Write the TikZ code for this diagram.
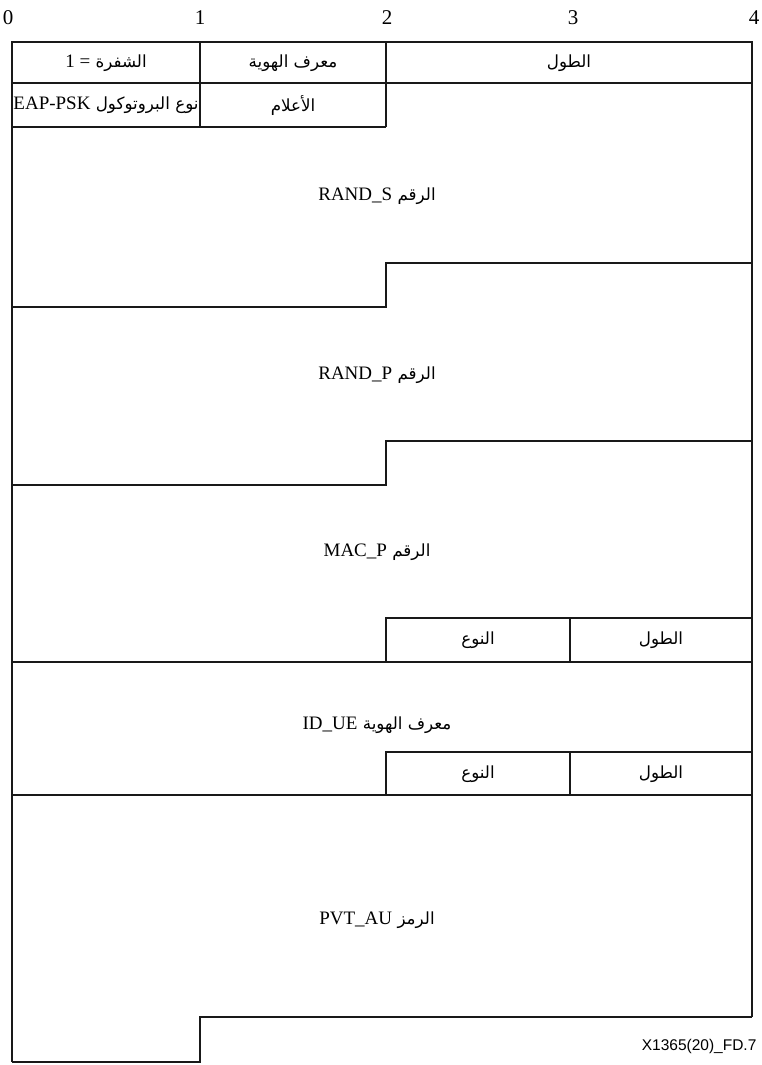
\documentclass[tikz,border=0pt]{standalone}
\usepackage{fontspec}
\setmainfont{Liberation Serif}
\newfontfamily\arabicfont[Script=Arabic,Scale=0.88]{DejaVu Sans}
\newfontfamily\figfont{Liberation Sans}
\TeXXeTstate=1
\newcommand{\artxt}[1]{{\arabicfont\beginR #1\endR}}
\newcommand{\lat}[1]{{\rmfamily\beginL #1\endL}}

\begin{document}
\begin{tikzpicture}[x=1pt, y=-1pt, line width=1.2pt, draw=black!90,
	field/.style={inner sep=0pt, font=\fontsize{19}{22}\selectfont},
	bitnum/.style={inner sep=0pt, font=\fontsize{21}{24}\selectfont}]
	\useasboundingbox (0,0) rectangle (761,1065);

	% bit scale
	\foreach \i/\x in {0/8, 1/200, 2/387, 3/573, 4/754}
		\node (b\i) at (\x, 18)	[bitnum]	{\i};

	% header
	\draw (12,42) rectangle (752,83);
	\draw (200,42) -- (200,127);
	\draw (386,42) -- (386,127);
	\draw (12,127) -- (386,127);
	\draw (12,83) -- (12,1062);
	\draw (752,83) -- (752,1017);

	% field borders
	\draw (12,307) -- (386,307) -- (386,263) -- (752,263);
	\draw (12,485) -- (386,485) -- (386,441) -- (752,441);
	\draw (386,618) rectangle (752,662);
	\draw (570,618) -- (570,662);
	\draw (12,662) -- (386,662);
	\draw (386,752) rectangle (752,795);
	\draw (570,752) -- (570,795);
	\draw (12,795) -- (386,795);
	\draw (12,1062) -- (200,1062) -- (200,1017) -- (752,1017);

	\node (code)	at (106, 63)	[field]	{\artxt{الشفرة {\rmfamily = 1}}};
	\node (ident)	at (293, 63)	[field]	{\artxt{معرف الهوية}};
	\node (len)	at (569, 63)	[field]	{\artxt{الطول}};
	\node (ptype)	at (106,105)	[field]	{\artxt{نوع البروتوكول \lat{EAP-PSK}}};
	\node (flags)	at (293,106)	[field]	{\artxt{الأعلام}};
	\node (rands)	at (377,196)	[field]	{\artxt{الرقم \lat{RAND\_S}}};
	\node (randp)	at (377,375)	[field]	{\artxt{الرقم \lat{RAND\_P}}};
	\node (macp)	at (377,552)	[field]	{\artxt{الرقم \lat{MAC\_P}}};
	\node (type1)	at (478,640)	[field]	{\artxt{النوع}};
	\node (len1)	at (661,640)	[field]	{\artxt{الطول}};
	\node (idue)	at (377,725)	[field]	{\artxt{معرف الهوية \lat{ID\_UE}}};
	\node (type2)	at (478,774)	[field]	{\artxt{النوع}};
	\node (len2)	at (661,774)	[field]	{\artxt{الطول}};
	\node (pvtau)	at (377,920)	[field]	{\artxt{الرمز \lat{PVT\_AU}}};

	\node (fig)	at (757,1046)	[anchor=east, inner sep=0pt, font=\figfont\fontsize{15.5}{17}\selectfont]	{X1365(20)\_FD.7};
\end{tikzpicture}
\end{document}
